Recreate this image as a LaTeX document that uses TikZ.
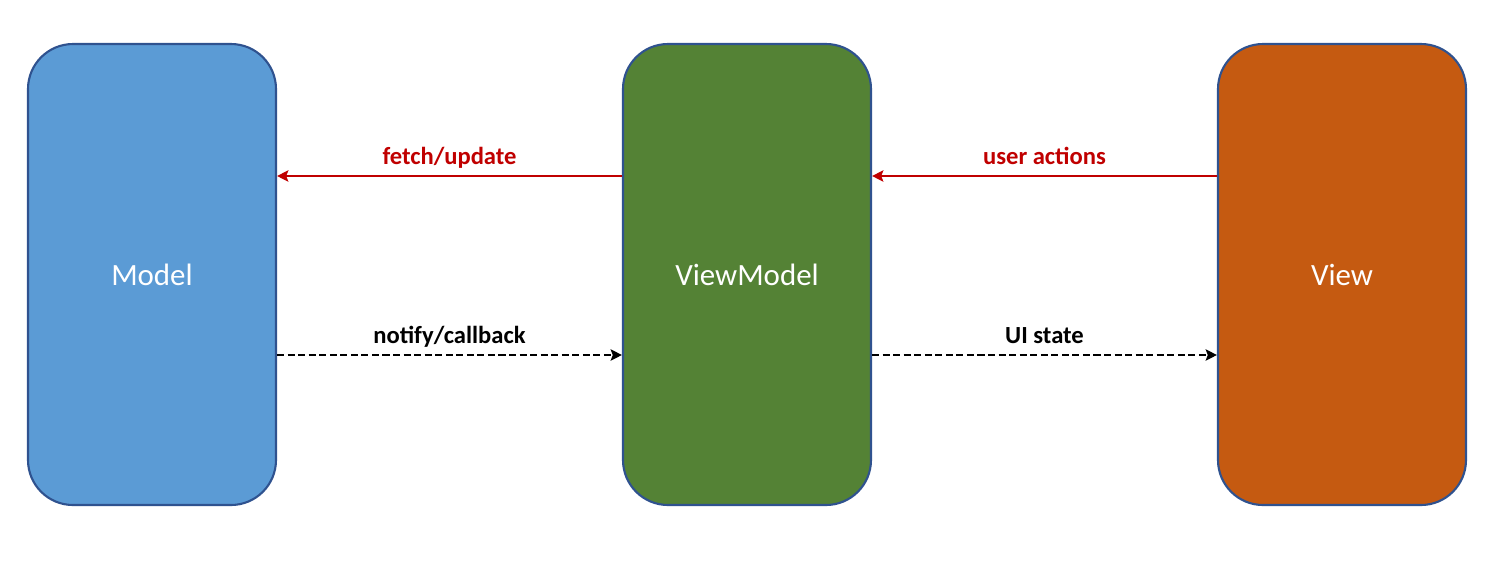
\documentclass[tikz,border=0pt]{standalone}
\usepackage{fontspec}
\setmainfont{Carlito}
\usepackage{tikz}
\usetikzlibrary{arrows.meta}
\definecolor{modelblue}{HTML}{5B9BD5}
\definecolor{vmgreen}{HTML}{548235}
\definecolor{vieworange}{HTML}{C55A11}
\definecolor{edgeblue}{HTML}{2F528F}
\definecolor{actred}{HTML}{C00000}

\begin{document}
\begin{tikzpicture}[
  layer/.style={draw=edgeblue, line width=0.6pt, rounded corners=0.45cm, minimum width=2.48cm, minimum height=4.61cm, text=white, font=\fontsize{8.8}{10}\selectfont},
  req/.style={-{Stealth[length=3.2pt,width=3.2pt,inset=0.6pt]}, line width=0.65pt, actred},
  obs/.style={-{Stealth[length=3.2pt,width=3.2pt,inset=0.6pt]}, line width=0.8pt, dash pattern=on 2pt off 1pt, black},
  lbl/.style={font=\bfseries\fontsize{7}{8}\selectfont, inner sep=1pt, text depth=0pt}
]
\useasboundingbox (0,0) rectangle (15,-5.62);
\node[layer, fill=modelblue] (model) at (1.52,-2.745) {Model};
\node[layer, fill=vmgreen] (vm) at (7.47,-2.745) {ViewModel};
\node[layer, fill=vieworange] (view) at (13.42,-2.745) {View};
% requests go left
\draw [req] ([yshift=+0.985cm] vm.west) -- ([yshift=+0.985cm] model.east) node[midway, above=2pt, lbl, actred] (fu) {fetch/update};
\draw [req] ([yshift=+0.985cm] view.west) -- ([yshift=+0.985cm] vm.east) node[midway, above=2pt, lbl, actred] (ua) {user actions};
% data comes back right
\draw [obs] ([yshift=-0.805cm] model.east) -- ([yshift=-0.805cm] vm.west) node[midway, above=2pt, lbl] (nc) {notify/callback};
\draw [obs] ([yshift=-0.805cm] vm.east) -- ([yshift=-0.805cm] view.west) node[midway, above=2pt, lbl] (us) {UI state};
\end{tikzpicture}
\end{document}
